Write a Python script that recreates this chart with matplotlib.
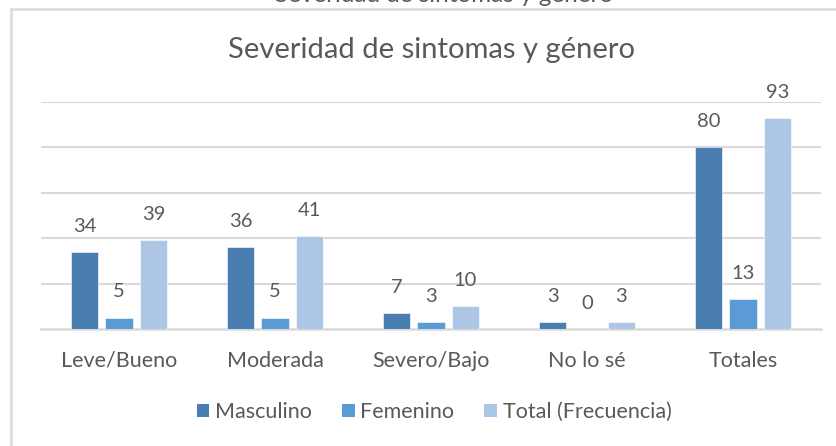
import matplotlib
matplotlib.use("Agg")
import matplotlib.pyplot as plt
from matplotlib.patches import Patch
from matplotlib.lines import Line2D
import numpy as np

categories = ["Leve/Bueno", "Moderada", "Severo/Bajo", "No lo sé", "Totales"]
masculino = [34, 36, 7, 3, 80]
femenino = [5, 5, 3, 0, 13]
total = [39, 41, 10, 3, 93]
series_names = ["Masculino", "Femenino", "Total (Frecuencia)"]
colors = ["#4A7EB0", "#5B9BD5", "#ADC6E5"]
title = "Severidad de sintomas y género"

plt.rcParams['font.family'] = ['Lato', 'DejaVu Sans']
TXT = "#595959"
GRID = "#D9D9D9"

W, H = 837, 446
fig = plt.figure(figsize=(W / 100, H / 100), dpi=100)
fig.patch.set_facecolor("white")

ax = fig.add_axes([41 / W, 1 - 329 / H, (821 - 41) / W, (329 - 102) / H])
x = np.arange(len(categories))
width = 0.175
offset = 0.221
for i, (vals, name, c) in enumerate(zip([masculino, femenino, total], series_names, colors)):
    pos = x + (i - 1) * offset
    bars = ax.bar(pos, vals, width, color=c, edgecolor="white", linewidth=0.4, label=name, zorder=3)
    for b, v in zip(bars, vals):
        ax.annotate(str(v), (b.get_x() + b.get_width() / 2, v), xytext=(0, 18.5),
                    textcoords="offset points", ha="center", va="center",
                    fontsize=14.5, color=TXT)

ax.set_xlim(-0.5, len(categories) - 0.5)
ax.set_ylim(0, 100)
ax.set_yticks([20, 40, 60, 80, 100])
ax.yaxis.grid(True, color=GRID, linewidth=1.5, zorder=0)
ax.tick_params(axis='y', left=False, labelleft=False)
ax.tick_params(axis='x', bottom=False, labelsize=15.5, colors=TXT, pad=12)
ax.set_xticks(x)
ax.set_xticklabels(categories)
for s in ["top", "right", "left"]:
    ax.spines[s].set_visible(False)
ax.spines["bottom"].set_color(GRID)
ax.spines["bottom"].set_linewidth(1.8)
ax.set_facecolor("none")

# chart title
fig.text(431 / W, 1 - 50 / H, title, ha="center", va="center", fontsize=21, color=TXT)
# clipped outer title at the top edge
fig.text(444 / W, 1 + 4 / H, title, ha="center", va="center", fontsize=17.5, color=TXT)

# chart area border (top and left)
fig.add_artist(Line2D([11 / W, 1], [1 - 9 / H, 1 - 9 / H], transform=fig.transFigure, color=GRID, linewidth=1.8))
fig.add_artist(Line2D([11.5 / W, 11.5 / W], [0, 1 - 9 / H], transform=fig.transFigure, color=GRID, linewidth=1.8))

handles = [Patch(facecolor=c, edgecolor="none") for c in colors]
fig.legend(handles, series_names, loc="center", bbox_to_anchor=(434 / W, 1 - 412 / H), ncol=3,
           frameon=False, fontsize=15.5, labelcolor=TXT, handlelength=0.6, handleheight=0.6,
           handletextpad=0.25, columnspacing=1.4)

fig.savefig("out.png", dpi=100, facecolor="white")
